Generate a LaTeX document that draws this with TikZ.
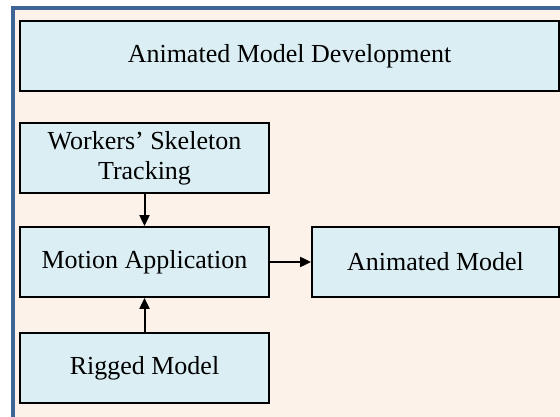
\documentclass[tikz,border=0pt]{standalone}
\usepackage{fontspec}
\setmainfont{Liberation Serif}
\usetikzlibrary{arrows.meta}
\definecolor{frameblue}{HTML}{3F6597}
\definecolor{bgpeach}{HTML}{FDF2E9}
\definecolor{boxblue}{HTML}{DAEEF3}
\tikzset{
  box/.style={draw=black, line width=1.8pt, fill=boxblue, font=\fontsize{26}{30}\selectfont, align=center},
  conn/.style={line width=2pt, -{Triangle[length=11pt,width=10pt]}}
}
\begin{document}
\begin{tikzpicture}[x=1pt,y=1pt]
\useasboundingbox (0,0) rectangle (560,417);
\begin{scope}
\clip (0,0) rectangle (560,417);
\fill[white] (0,0) rectangle (560,417);
\draw[frameblue, line width=4pt, fill=bgpeach] (13,409) rectangle (600,-30);
\end{scope}
% boxes (y = 417 - ypx)
\node[box, minimum width=539pt, minimum height=70pt] (title) at (289.5,361) {Animated Model Development};
\node[box, minimum width=249pt, minimum height=70pt] (track) at (144.5,259) {Workers’ Skeleton\\Tracking};
\node[box, minimum width=249pt, minimum height=70pt] (motion) at (144.5,155) {Motion Application};
\node[box, minimum width=249pt, minimum height=70pt] (rigged) at (144.5,49) {Rigged Model};
\node[box, minimum width=247pt, minimum height=70pt] (anim) at (435.5,155) {Animated Model};
\draw[conn] (track.south) -- (motion.north);
\draw[conn] (rigged.north) -- (motion.south);
\draw[conn] (motion.east) -- (anim.west);
\end{tikzpicture}
\end{document}
